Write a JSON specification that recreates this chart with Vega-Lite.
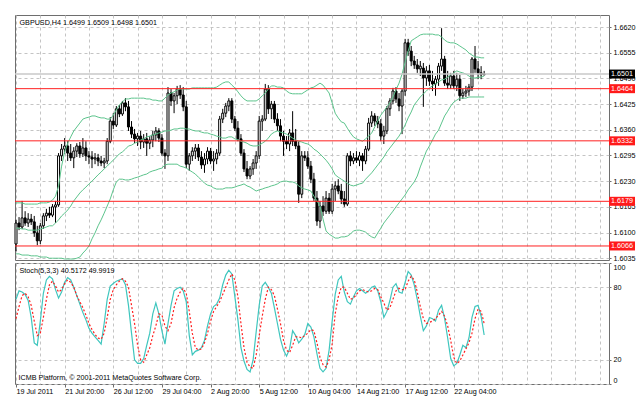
{
"$schema": "https://vega.github.io/schema/vega-lite/v6.json",
"padding": {"left": 13, "top": 14, "right": 2, "bottom": 2},
"background": "white",
"spacing": 3,
"bounds": "flush",
"config": {
  "font": "Liberation Sans",
  "view": {"stroke": "#6e6e6e", "strokeWidth": 1},
  "axis": {"labelFont": "Liberation Sans", "labelFontSize": 7.2, "labelColor": "#000000", "gridColor": "#c4c4c4", "gridDash": [3, 3], "gridWidth": 1, "tickColor": "#6e6e6e", "domain": false, "labelOverlap": false, "labelBound": false, "tickCount": 50, "titleFont": "Liberation Sans", "titleFontSize": 7.2, "titleFontWeight": "normal", "titleColor": "#000000"}
},
"datasets": {
  "levels": [{"p": 1.6464}, {"p": 1.6332}, {"p": 1.6179}, {"p": 1.6066}],
  "bid": [{"p": 1.6501}],
  "bars": [
{"i":0,"o":1.6071,"h":1.6132,"l":1.6053,"c":1.6124,"u":1.6175,"m":1.6111,"b":1.6046,"k":70,"d":54},
{"i":1,"o":1.6124,"h":1.6139,"l":1.6106,"c":1.6114,"u":1.6175,"m":1.6111,"b":1.6046,"k":77,"d":64},
{"i":2,"o":1.6114,"h":1.6180,"l":1.6109,"c":1.6137,"u":1.6175,"m":1.6109,"b":1.6043,"k":76,"d":73},
{"i":3,"o":1.6137,"h":1.6154,"l":1.6117,"c":1.6124,"u":1.6172,"m":1.6109,"b":1.6043,"k":74,"d":75},
{"i":4,"o":1.6124,"h":1.6149,"l":1.6114,"c":1.6134,"u":1.6172,"m":1.6106,"b":1.6043,"k":69,"d":72},
{"i":5,"o":1.6134,"h":1.6147,"l":1.6119,"c":1.6127,"u":1.6172,"m":1.6106,"b":1.6041,"k":55,"d":65},
{"i":6,"o":1.6127,"h":1.6142,"l":1.6089,"c":1.6099,"u":1.6172,"m":1.6106,"b":1.6041,"k":34,"d":52},
{"i":7,"o":1.6099,"h":1.6117,"l":1.6068,"c":1.6079,"u":1.6172,"m":1.6106,"b":1.6041,"k":32,"d":40},
{"i":8,"o":1.6079,"h":1.6124,"l":1.6071,"c":1.6117,"u":1.6175,"m":1.6109,"b":1.6038,"k":52,"d":42},
{"i":9,"o":1.6117,"h":1.6149,"l":1.6109,"c":1.6142,"u":1.6175,"m":1.6111,"b":1.6038,"k":75,"d":55},
{"i":10,"o":1.6142,"h":1.6160,"l":1.6129,"c":1.6149,"u":1.6175,"m":1.6114,"b":1.6038,"k":86,"d":70},
{"i":11,"o":1.6149,"h":1.6165,"l":1.6137,"c":1.6144,"u":1.6177,"m":1.6117,"b":1.6035,"k":89,"d":82},
{"i":12,"o":1.6144,"h":1.6172,"l":1.6139,"c":1.6165,"u":1.6182,"m":1.6117,"b":1.6035,"k":87,"d":85},
{"i":13,"o":1.6165,"h":1.6180,"l":1.6124,"c":1.6170,"u":1.6192,"m":1.6124,"b":1.6035,"k":78,"d":81},
{"i":14,"o":1.6170,"h":1.6301,"l":1.6165,"c":1.6294,"u":1.6218,"m":1.6132,"b":1.6035,"k":71,"d":76},
{"i":15,"o":1.6294,"h":1.6324,"l":1.6281,"c":1.6311,"u":1.6268,"m":1.6142,"b":1.6035,"k":76,"d":78},
{"i":16,"o":1.6311,"h":1.6339,"l":1.6299,"c":1.6319,"u":1.6304,"m":1.6149,"b":1.6033,"k":84,"d":83},
{"i":17,"o":1.6319,"h":1.6331,"l":1.6281,"c":1.6301,"u":1.6326,"m":1.6157,"b":1.6033,"k":88,"d":86},
{"i":18,"o":1.6301,"h":1.6324,"l":1.6281,"c":1.6289,"u":1.6342,"m":1.6167,"b":1.6033,"k":86,"d":84},
{"i":19,"o":1.6289,"h":1.6316,"l":1.6263,"c":1.6306,"u":1.6357,"m":1.6180,"b":1.6033,"k":80,"d":80},
{"i":20,"o":1.6306,"h":1.6326,"l":1.6291,"c":1.6319,"u":1.6367,"m":1.6190,"b":1.6035,"k":73,"d":73},
{"i":21,"o":1.6319,"h":1.6329,"l":1.6289,"c":1.6299,"u":1.6377,"m":1.6200,"b":1.6038,"k":66,"d":68},
{"i":22,"o":1.6299,"h":1.6339,"l":1.6291,"c":1.6314,"u":1.6387,"m":1.6208,"b":1.6048,"k":59,"d":63},
{"i":23,"o":1.6314,"h":1.6331,"l":1.6281,"c":1.6294,"u":1.6390,"m":1.6215,"b":1.6056,"k":53,"d":57},
{"i":24,"o":1.6294,"h":1.6306,"l":1.6273,"c":1.6291,"u":1.6392,"m":1.6223,"b":1.6066,"k":46,"d":50},
{"i":25,"o":1.6291,"h":1.6306,"l":1.6263,"c":1.6286,"u":1.6395,"m":1.6230,"b":1.6084,"k":42,"d":45},
{"i":26,"o":1.6286,"h":1.6301,"l":1.6273,"c":1.6289,"u":1.6395,"m":1.6238,"b":1.6099,"k":39,"d":41},
{"i":27,"o":1.6289,"h":1.6299,"l":1.6268,"c":1.6281,"u":1.6392,"m":1.6246,"b":1.6117,"k":36,"d":38},
{"i":28,"o":1.6281,"h":1.6294,"l":1.6268,"c":1.6276,"u":1.6390,"m":1.6253,"b":1.6132,"k":33,"d":37},
{"i":29,"o":1.6276,"h":1.6289,"l":1.6263,"c":1.6281,"u":1.6390,"m":1.6261,"b":1.6149,"k":50,"d":42},
{"i":30,"o":1.6281,"h":1.6339,"l":1.6273,"c":1.6331,"u":1.6387,"m":1.6268,"b":1.6167,"k":70,"d":55},
{"i":31,"o":1.6331,"h":1.6392,"l":1.6326,"c":1.6382,"u":1.6387,"m":1.6276,"b":1.6185,"k":81,"d":70},
{"i":32,"o":1.6382,"h":1.6402,"l":1.6362,"c":1.6372,"u":1.6397,"m":1.6283,"b":1.6208,"k":83,"d":78},
{"i":33,"o":1.6372,"h":1.6420,"l":1.6367,"c":1.6413,"u":1.6410,"m":1.6291,"b":1.6228,"k":85,"d":82},
{"i":34,"o":1.6413,"h":1.6423,"l":1.6392,"c":1.6400,"u":1.6423,"m":1.6299,"b":1.6235,"k":86,"d":85},
{"i":35,"o":1.6400,"h":1.6433,"l":1.6395,"c":1.6428,"u":1.6430,"m":1.6304,"b":1.6235,"k":87,"d":87},
{"i":36,"o":1.6428,"h":1.6440,"l":1.6407,"c":1.6418,"u":1.6438,"m":1.6311,"b":1.6233,"k":82,"d":85},
{"i":37,"o":1.6418,"h":1.6433,"l":1.6357,"c":1.6367,"u":1.6438,"m":1.6319,"b":1.6233,"k":65,"d":80},
{"i":38,"o":1.6367,"h":1.6382,"l":1.6339,"c":1.6349,"u":1.6440,"m":1.6321,"b":1.6235,"k":42,"d":65},
{"i":39,"o":1.6349,"h":1.6362,"l":1.6326,"c":1.6337,"u":1.6440,"m":1.6326,"b":1.6238,"k":20,"d":50},
{"i":40,"o":1.6337,"h":1.6352,"l":1.6319,"c":1.6344,"u":1.6440,"m":1.6329,"b":1.6240,"k":17,"d":32},
{"i":41,"o":1.6344,"h":1.6357,"l":1.6311,"c":1.6329,"u":1.6440,"m":1.6334,"b":1.6243,"k":17,"d":20},
{"i":42,"o":1.6329,"h":1.6349,"l":1.6314,"c":1.6337,"u":1.6440,"m":1.6337,"b":1.6246,"k":21,"d":18},
{"i":43,"o":1.6337,"h":1.6352,"l":1.6294,"c":1.6326,"u":1.6438,"m":1.6342,"b":1.6248,"k":32,"d":24},
{"i":44,"o":1.6326,"h":1.6344,"l":1.6311,"c":1.6334,"u":1.6438,"m":1.6344,"b":1.6253,"k":42,"d":30},
{"i":45,"o":1.6334,"h":1.6357,"l":1.6316,"c":1.6347,"u":1.6435,"m":1.6347,"b":1.6256,"k":58,"d":40},
{"i":46,"o":1.6347,"h":1.6367,"l":1.6331,"c":1.6357,"u":1.6435,"m":1.6349,"b":1.6258,"k":67,"d":48},
{"i":47,"o":1.6357,"h":1.6364,"l":1.6329,"c":1.6339,"u":1.6433,"m":1.6352,"b":1.6261,"k":58,"d":58},
{"i":48,"o":1.6339,"h":1.6349,"l":1.6294,"c":1.6301,"u":1.6433,"m":1.6354,"b":1.6263,"k":44,"d":57},
{"i":49,"o":1.6301,"h":1.6311,"l":1.6261,"c":1.6294,"u":1.6440,"m":1.6357,"b":1.6271,"k":33,"d":48},
{"i":50,"o":1.6294,"h":1.6468,"l":1.6281,"c":1.6453,"u":1.6448,"m":1.6357,"b":1.6273,"k":50,"d":44},
{"i":51,"o":1.6453,"h":1.6463,"l":1.6420,"c":1.6433,"u":1.6453,"m":1.6359,"b":1.6273,"k":65,"d":50},
{"i":52,"o":1.6433,"h":1.6453,"l":1.6402,"c":1.6446,"u":1.6456,"m":1.6362,"b":1.6273,"k":77,"d":63},
{"i":53,"o":1.6446,"h":1.6471,"l":1.6425,"c":1.6463,"u":1.6461,"m":1.6362,"b":1.6273,"k":79,"d":71},
{"i":54,"o":1.6463,"h":1.6473,"l":1.6438,"c":1.6448,"u":1.6463,"m":1.6364,"b":1.6268,"k":80,"d":76},
{"i":55,"o":1.6448,"h":1.6468,"l":1.6407,"c":1.6418,"u":1.6463,"m":1.6364,"b":1.6266,"k":77,"d":79},
{"i":56,"o":1.6418,"h":1.6433,"l":1.6263,"c":1.6273,"u":1.6463,"m":1.6362,"b":1.6263,"k":68,"d":75},
{"i":57,"o":1.6273,"h":1.6301,"l":1.6256,"c":1.6294,"u":1.6463,"m":1.6362,"b":1.6258,"k":40,"d":60},
{"i":58,"o":1.6294,"h":1.6316,"l":1.6281,"c":1.6306,"u":1.6466,"m":1.6359,"b":1.6253,"k":24,"d":42},
{"i":59,"o":1.6306,"h":1.6324,"l":1.6286,"c":1.6314,"u":1.6466,"m":1.6357,"b":1.6248,"k":27,"d":30},
{"i":60,"o":1.6314,"h":1.6324,"l":1.6281,"c":1.6291,"u":1.6466,"m":1.6357,"b":1.6240,"k":28,"d":28},
{"i":61,"o":1.6291,"h":1.6306,"l":1.6261,"c":1.6271,"u":1.6466,"m":1.6354,"b":1.6233,"k":30,"d":29},
{"i":62,"o":1.6271,"h":1.6301,"l":1.6251,"c":1.6286,"u":1.6466,"m":1.6352,"b":1.6225,"k":36,"d":34},
{"i":63,"o":1.6286,"h":1.6316,"l":1.6273,"c":1.6306,"u":1.6466,"m":1.6352,"b":1.6220,"k":48,"d":42},
{"i":64,"o":1.6306,"h":1.6314,"l":1.6273,"c":1.6281,"u":1.6466,"m":1.6349,"b":1.6218,"k":58,"d":52},
{"i":65,"o":1.6281,"h":1.6306,"l":1.6256,"c":1.6286,"u":1.6466,"m":1.6347,"b":1.6213,"k":64,"d":60},
{"i":66,"o":1.6286,"h":1.6311,"l":1.6273,"c":1.6301,"u":1.6468,"m":1.6344,"b":1.6210,"k":66,"d":64},
{"i":67,"o":1.6301,"h":1.6395,"l":1.6294,"c":1.6387,"u":1.6473,"m":1.6342,"b":1.6210,"k":71,"d":68},
{"i":68,"o":1.6387,"h":1.6413,"l":1.6377,"c":1.6402,"u":1.6478,"m":1.6339,"b":1.6210,"k":82,"d":74},
{"i":69,"o":1.6402,"h":1.6428,"l":1.6392,"c":1.6420,"u":1.6481,"m":1.6339,"b":1.6213,"k":90,"d":80},
{"i":70,"o":1.6420,"h":1.6440,"l":1.6407,"c":1.6433,"u":1.6481,"m":1.6342,"b":1.6213,"k":94,"d":86},
{"i":71,"o":1.6433,"h":1.6440,"l":1.6377,"c":1.6387,"u":1.6473,"m":1.6342,"b":1.6213,"k":91,"d":91},
{"i":72,"o":1.6387,"h":1.6395,"l":1.6357,"c":1.6364,"u":1.6466,"m":1.6337,"b":1.6215,"k":72,"d":86},
{"i":73,"o":1.6364,"h":1.6382,"l":1.6331,"c":1.6337,"u":1.6456,"m":1.6334,"b":1.6218,"k":53,"d":72},
{"i":74,"o":1.6337,"h":1.6349,"l":1.6294,"c":1.6301,"u":1.6446,"m":1.6331,"b":1.6220,"k":30,"d":50},
{"i":75,"o":1.6301,"h":1.6311,"l":1.6253,"c":1.6261,"u":1.6438,"m":1.6329,"b":1.6223,"k":19,"d":30},
{"i":76,"o":1.6261,"h":1.6281,"l":1.6235,"c":1.6243,"u":1.6433,"m":1.6326,"b":1.6218,"k":12,"d":18},
{"i":77,"o":1.6243,"h":1.6268,"l":1.6235,"c":1.6261,"u":1.6433,"m":1.6321,"b":1.6215,"k":10,"d":14},
{"i":78,"o":1.6261,"h":1.6286,"l":1.6246,"c":1.6276,"u":1.6433,"m":1.6319,"b":1.6210,"k":20,"d":13},
{"i":79,"o":1.6276,"h":1.6306,"l":1.6261,"c":1.6294,"u":1.6433,"m":1.6319,"b":1.6205,"k":43,"d":24},
{"i":80,"o":1.6294,"h":1.6395,"l":1.6286,"c":1.6382,"u":1.6438,"m":1.6321,"b":1.6208,"k":65,"d":40},
{"i":81,"o":1.6382,"h":1.6397,"l":1.6357,"c":1.6387,"u":1.6446,"m":1.6326,"b":1.6210,"k":81,"d":56},
{"i":82,"o":1.6387,"h":1.6476,"l":1.6382,"c":1.6463,"u":1.6453,"m":1.6331,"b":1.6213,"k":84,"d":70},
{"i":83,"o":1.6463,"h":1.6473,"l":1.6400,"c":1.6413,"u":1.6463,"m":1.6339,"b":1.6215,"k":80,"d":80},
{"i":84,"o":1.6413,"h":1.6433,"l":1.6387,"c":1.6425,"u":1.6471,"m":1.6349,"b":1.6218,"k":75,"d":78},
{"i":85,"o":1.6425,"h":1.6433,"l":1.6377,"c":1.6387,"u":1.6471,"m":1.6354,"b":1.6220,"k":63,"d":73},
{"i":86,"o":1.6387,"h":1.6402,"l":1.6357,"c":1.6370,"u":1.6468,"m":1.6357,"b":1.6223,"k":50,"d":62},
{"i":87,"o":1.6370,"h":1.6387,"l":1.6331,"c":1.6344,"u":1.6468,"m":1.6354,"b":1.6228,"k":37,"d":50},
{"i":88,"o":1.6344,"h":1.6357,"l":1.6294,"c":1.6331,"u":1.6466,"m":1.6352,"b":1.6230,"k":28,"d":36},
{"i":89,"o":1.6331,"h":1.6344,"l":1.6311,"c":1.6324,"u":1.6458,"m":1.6349,"b":1.6230,"k":23,"d":28},
{"i":90,"o":1.6324,"h":1.6362,"l":1.6306,"c":1.6352,"u":1.6453,"m":1.6344,"b":1.6228,"k":29,"d":26},
{"i":91,"o":1.6352,"h":1.6407,"l":1.6319,"c":1.6331,"u":1.6451,"m":1.6339,"b":1.6228,"k":44,"d":32},
{"i":92,"o":1.6331,"h":1.6362,"l":1.6311,"c":1.6319,"u":1.6451,"m":1.6334,"b":1.6225,"k":40,"d":39},
{"i":93,"o":1.6319,"h":1.6331,"l":1.6175,"c":1.6197,"u":1.6451,"m":1.6331,"b":1.6218,"k":34,"d":39},
{"i":94,"o":1.6197,"h":1.6306,"l":1.6187,"c":1.6294,"u":1.6451,"m":1.6329,"b":1.6213,"k":37,"d":38},
{"i":95,"o":1.6294,"h":1.6306,"l":1.6281,"c":1.6289,"u":1.6456,"m":1.6326,"b":1.6210,"k":41,"d":40},
{"i":96,"o":1.6289,"h":1.6306,"l":1.6261,"c":1.6268,"u":1.6461,"m":1.6324,"b":1.6208,"k":50,"d":42},
{"i":97,"o":1.6268,"h":1.6281,"l":1.6225,"c":1.6235,"u":1.6466,"m":1.6319,"b":1.6205,"k":47,"d":45},
{"i":98,"o":1.6235,"h":1.6251,"l":1.6180,"c":1.6187,"u":1.6468,"m":1.6311,"b":1.6192,"k":39,"d":44},
{"i":99,"o":1.6187,"h":1.6205,"l":1.6117,"c":1.6129,"u":1.6473,"m":1.6306,"b":1.6180,"k":25,"d":34},
{"i":100,"o":1.6129,"h":1.6180,"l":1.6111,"c":1.6167,"u":1.6478,"m":1.6299,"b":1.6167,"k":13,"d":22},
{"i":101,"o":1.6167,"h":1.6192,"l":1.6142,"c":1.6154,"u":1.6473,"m":1.6291,"b":1.6134,"k":10,"d":16},
{"i":102,"o":1.6154,"h":1.6205,"l":1.6147,"c":1.6187,"u":1.6463,"m":1.6283,"b":1.6104,"k":13,"d":14},
{"i":103,"o":1.6187,"h":1.6200,"l":1.6147,"c":1.6154,"u":1.6453,"m":1.6273,"b":1.6096,"k":28,"d":20},
{"i":104,"o":1.6154,"h":1.6223,"l":1.6147,"c":1.6210,"u":1.6428,"m":1.6261,"b":1.6091,"k":52,"d":33},
{"i":105,"o":1.6210,"h":1.6230,"l":1.6180,"c":1.6218,"u":1.6402,"m":1.6246,"b":1.6086,"k":74,"d":58},
{"i":106,"o":1.6218,"h":1.6235,"l":1.6197,"c":1.6205,"u":1.6390,"m":1.6240,"b":1.6086,"k":86,"d":72},
{"i":107,"o":1.6205,"h":1.6223,"l":1.6172,"c":1.6185,"u":1.6380,"m":1.6235,"b":1.6089,"k":89,"d":80},
{"i":108,"o":1.6185,"h":1.6205,"l":1.6165,"c":1.6172,"u":1.6377,"m":1.6230,"b":1.6089,"k":76,"d":80},
{"i":109,"o":1.6172,"h":1.6301,"l":1.6167,"c":1.6294,"u":1.6364,"m":1.6225,"b":1.6091,"k":68,"d":75},
{"i":110,"o":1.6294,"h":1.6306,"l":1.6268,"c":1.6281,"u":1.6352,"m":1.6220,"b":1.6096,"k":66,"d":70},
{"i":111,"o":1.6281,"h":1.6301,"l":1.6273,"c":1.6289,"u":1.6342,"m":1.6218,"b":1.6104,"k":72,"d":71},
{"i":112,"o":1.6289,"h":1.6306,"l":1.6276,"c":1.6283,"u":1.6337,"m":1.6220,"b":1.6106,"k":77,"d":74},
{"i":113,"o":1.6283,"h":1.6304,"l":1.6268,"c":1.6294,"u":1.6334,"m":1.6223,"b":1.6106,"k":79,"d":77},
{"i":114,"o":1.6294,"h":1.6301,"l":1.6256,"c":1.6281,"u":1.6331,"m":1.6225,"b":1.6104,"k":77,"d":78},
{"i":115,"o":1.6281,"h":1.6319,"l":1.6273,"c":1.6311,"u":1.6337,"m":1.6235,"b":1.6101,"k":75,"d":77},
{"i":116,"o":1.6311,"h":1.6390,"l":1.6306,"c":1.6377,"u":1.6344,"m":1.6243,"b":1.6094,"k":77,"d":76},
{"i":117,"o":1.6377,"h":1.6407,"l":1.6367,"c":1.6395,"u":1.6352,"m":1.6251,"b":1.6089,"k":80,"d":77},
{"i":118,"o":1.6395,"h":1.6402,"l":1.6370,"c":1.6382,"u":1.6367,"m":1.6261,"b":1.6086,"k":81,"d":79},
{"i":119,"o":1.6382,"h":1.6395,"l":1.6364,"c":1.6375,"u":1.6382,"m":1.6271,"b":1.6099,"k":77,"d":78},
{"i":120,"o":1.6375,"h":1.6387,"l":1.6331,"c":1.6344,"u":1.6397,"m":1.6281,"b":1.6111,"k":68,"d":72},
{"i":121,"o":1.6344,"h":1.6370,"l":1.6324,"c":1.6357,"u":1.6407,"m":1.6291,"b":1.6124,"k":55,"d":67},
{"i":122,"o":1.6357,"h":1.6420,"l":1.6349,"c":1.6413,"u":1.6418,"m":1.6304,"b":1.6134,"k":60,"d":61},
{"i":123,"o":1.6413,"h":1.6440,"l":1.6395,"c":1.6433,"u":1.6428,"m":1.6314,"b":1.6144,"k":69,"d":63},
{"i":124,"o":1.6433,"h":1.6466,"l":1.6425,"c":1.6458,"u":1.6443,"m":1.6324,"b":1.6154,"k":80,"d":70},
{"i":125,"o":1.6458,"h":1.6468,"l":1.6428,"c":1.6438,"u":1.6461,"m":1.6334,"b":1.6165,"k":83,"d":77},
{"i":126,"o":1.6438,"h":1.6453,"l":1.6407,"c":1.6420,"u":1.6478,"m":1.6344,"b":1.6175,"k":76,"d":79},
{"i":127,"o":1.6420,"h":1.6463,"l":1.6349,"c":1.6458,"u":1.6501,"m":1.6357,"b":1.6185,"k":75,"d":78},
{"i":128,"o":1.6458,"h":1.6590,"l":1.6446,"c":1.6580,"u":1.6531,"m":1.6372,"b":1.6195,"k":84,"d":78},
{"i":129,"o":1.6580,"h":1.6590,"l":1.6547,"c":1.6559,"u":1.6559,"m":1.6390,"b":1.6208,"k":93,"d":85},
{"i":130,"o":1.6559,"h":1.6572,"l":1.6521,"c":1.6534,"u":1.6585,"m":1.6405,"b":1.6218,"k":90,"d":89},
{"i":131,"o":1.6534,"h":1.6547,"l":1.6514,"c":1.6524,"u":1.6590,"m":1.6423,"b":1.6228,"k":82,"d":86},
{"i":132,"o":1.6524,"h":1.6539,"l":1.6504,"c":1.6514,"u":1.6595,"m":1.6433,"b":1.6243,"k":70,"d":76},
{"i":133,"o":1.6514,"h":1.6534,"l":1.6496,"c":1.6521,"u":1.6600,"m":1.6443,"b":1.6266,"k":56,"d":64},
{"i":134,"o":1.6516,"h":1.6529,"l":1.6418,"c":1.6491,"u":1.6602,"m":1.6451,"b":1.6286,"k":44,"d":54},
{"i":135,"o":1.6491,"h":1.6521,"l":1.6471,"c":1.6509,"u":1.6602,"m":1.6458,"b":1.6306,"k":48,"d":50},
{"i":136,"o":1.6509,"h":1.6524,"l":1.6471,"c":1.6483,"u":1.6602,"m":1.6466,"b":1.6319,"k":55,"d":51},
{"i":137,"o":1.6483,"h":1.6509,"l":1.6458,"c":1.6476,"u":1.6602,"m":1.6471,"b":1.6334,"k":54,"d":52},
{"i":138,"o":1.6476,"h":1.6496,"l":1.6446,"c":1.6488,"u":1.6600,"m":1.6476,"b":1.6349,"k":52,"d":54},
{"i":139,"o":1.6488,"h":1.6529,"l":1.6471,"c":1.6521,"u":1.6600,"m":1.6481,"b":1.6359,"k":61,"d":57},
{"i":140,"o":1.6521,"h":1.6617,"l":1.6509,"c":1.6539,"u":1.6595,"m":1.6486,"b":1.6377,"k":65,"d":60},
{"i":141,"o":1.6539,"h":1.6547,"l":1.6471,"c":1.6478,"u":1.6587,"m":1.6488,"b":1.6395,"k":54,"d":56},
{"i":142,"o":1.6478,"h":1.6509,"l":1.6463,"c":1.6473,"u":1.6582,"m":1.6493,"b":1.6407,"k":38,"d":48},
{"i":143,"o":1.6473,"h":1.6504,"l":1.6463,"c":1.6496,"u":1.6580,"m":1.6499,"b":1.6420,"k":21,"d":36},
{"i":144,"o":1.6496,"h":1.6509,"l":1.6463,"c":1.6471,"u":1.6580,"m":1.6504,"b":1.6430,"k":15,"d":22},
{"i":145,"o":1.6471,"h":1.6504,"l":1.6458,"c":1.6488,"u":1.6577,"m":1.6509,"b":1.6435,"k":17,"d":17},
{"i":146,"o":1.6488,"h":1.6499,"l":1.6433,"c":1.6446,"u":1.6572,"m":1.6506,"b":1.6440,"k":24,"d":19},
{"i":147,"o":1.6446,"h":1.6463,"l":1.6438,"c":1.6453,"u":1.6567,"m":1.6504,"b":1.6440,"k":32,"d":24},
{"i":148,"o":1.6453,"h":1.6471,"l":1.6443,"c":1.6458,"u":1.6562,"m":1.6501,"b":1.6440,"k":30,"d":29},
{"i":149,"o":1.6458,"h":1.6476,"l":1.6446,"c":1.6468,"u":1.6554,"m":1.6496,"b":1.6443,"k":38,"d":34},
{"i":150,"o":1.6468,"h":1.6544,"l":1.6458,"c":1.6539,"u":1.6549,"m":1.6491,"b":1.6443,"k":55,"d":42},
{"i":151,"o":1.6539,"h":1.6572,"l":1.6504,"c":1.6514,"u":1.6544,"m":1.6491,"b":1.6443,"k":64,"d":54},
{"i":152,"o":1.6514,"h":1.6534,"l":1.6488,"c":1.6504,"u":1.6544,"m":1.6493,"b":1.6443,"k":65,"d":62},
{"i":153,"o":1.6504,"h":1.6521,"l":1.6488,"c":1.6499,"u":1.6542,"m":1.6493,"b":1.6443,"k":56,"d":60},
{"i":154,"o":1.6499,"h":1.6509,"l":1.6498,"c":1.6501,"u":1.6542,"m":1.6496,"b":1.6443,"k":40.5172,"d":49.9919}
  ]
},
"vconcat": [
  {
    "width": 594,
    "height": 245,
    "layer": [
      {
        "data": {"name": "bars"},
        "mark": {"type": "rule", "color": "#000000", "strokeWidth": 1},
        "encoding": {
          "x": {"field": "i", "type": "quantitative", "scale": {"domain": [-0.33, 195.07], "nice": false, "zero": false, "padding": 0},
                "axis": {"values": [0,8,16,24,32,40,48,56,64,72,80,88,96,104,112,120,128,136,144,152,160,168,176,184,192], "tickCount": 50, "grid": true, "labels": false, "ticks": false, "domain": false,
                         "title": "GBPUSD,H4  1.6499 1.6509 1.6498 1.6501", "titleX": 4, "titleY": -236, "titleAnchor": "start", "titleAlign": "left", "titleBaseline": "alphabetic"}},
          "y": {"field": "l", "type": "quantitative", "scale": {"domain": [1.60305, 1.66504], "nice": false, "zero": false},
                "axis": {"orient": "right", "values": [1.6035,1.61,1.6165,1.623,1.6295,1.636,1.6425,1.649,1.6555,1.662], "tickCount": 50, "format": ".4f", "grid": true, "tickSize": 2, "labelPadding": 2, "domain": false, "title": null, "labelOverlap": false, "labelBound": false}},
          "y2": {"field": "h"}
        }
      },
      {
        "data": {"name": "bars"},
        "mark": {"type": "bar", "width": 2, "stroke": "#000000", "strokeWidth": 1},
        "encoding": {
          "x": {"field": "i", "type": "quantitative", "scale": {"domain": [-0.33, 195.07], "nice": false, "zero": false, "padding": 0}},
          "y": {"field": "o", "type": "quantitative", "scale": {"domain": [1.60305, 1.66504], "nice": false, "zero": false}},
          "y2": {"field": "c"},
          "fill": {"condition": {"test": "datum.c >= datum.o", "value": "#ffffff"}, "value": "#000000"}
        }
      },
      {
        "data": {"name": "bars"},
        "mark": {"type": "line", "color": "#5cc48c", "strokeWidth": 1},
        "encoding": {
          "x": {"field": "i", "type": "quantitative", "scale": {"domain": [-0.33, 195.07], "nice": false, "zero": false, "padding": 0}},
          "y": {"field": "u", "type": "quantitative", "scale": {"domain": [1.60305, 1.66504], "nice": false, "zero": false}}
        }
      },
      {
        "data": {"name": "bars"},
        "mark": {"type": "line", "color": "#5cc48c", "strokeWidth": 1},
        "encoding": {
          "x": {"field": "i", "type": "quantitative", "scale": {"domain": [-0.33, 195.07], "nice": false, "zero": false, "padding": 0}},
          "y": {"field": "m", "type": "quantitative", "scale": {"domain": [1.60305, 1.66504], "nice": false, "zero": false}}
        }
      },
      {
        "data": {"name": "bars"},
        "mark": {"type": "line", "color": "#5cc48c", "strokeWidth": 1},
        "encoding": {
          "x": {"field": "i", "type": "quantitative", "scale": {"domain": [-0.33, 195.07], "nice": false, "zero": false, "padding": 0}},
          "y": {"field": "b", "type": "quantitative", "scale": {"domain": [1.60305, 1.66504], "nice": false, "zero": false}}
        }
      },
      {
        "data": {"name": "bid"},
        "mark": {"type": "rule", "color": "#c8c8c8", "strokeWidth": 1.5},
        "encoding": {"y": {"field": "p", "type": "quantitative", "scale": {"domain": [1.60305, 1.66504], "nice": false, "zero": false}}}
      },
      {
        "data": {"name": "levels"},
        "mark": {"type": "rule", "color": "#ff2020", "strokeWidth": 1},
        "encoding": {"y": {"field": "p", "type": "quantitative", "scale": {"domain": [1.60305, 1.66504], "nice": false, "zero": false}}}
      },
      {
        "data": {"name": "levels"},
        "mark": {"type": "rule", "color": "#ff1a1a", "strokeWidth": 9, "x": {"expr": "width"}, "x2": {"expr": "width + 26"}},
        "encoding": {"y": {"field": "p", "type": "quantitative", "scale": {"domain": [1.60305, 1.66504], "nice": false, "zero": false}}}
      },
      {
        "data": {"name": "bid"},
        "mark": {"type": "rule", "color": "#000000", "strokeWidth": 9, "x": {"expr": "width"}, "x2": {"expr": "width + 26"}},
        "encoding": {"y": {"field": "p", "type": "quantitative", "scale": {"domain": [1.60305, 1.66504], "nice": false, "zero": false}}}
      },
      {
        "data": {"name": "levels"},
        "mark": {"type": "text", "color": "#ffffff", "align": "left", "baseline": "middle", "x": {"expr": "width + 2"}, "fontSize": 7.2, "font": "Liberation Sans"},
        "encoding": {
          "y": {"field": "p", "type": "quantitative", "scale": {"domain": [1.60305, 1.66504], "nice": false, "zero": false}},
          "text": {"field": "p", "type": "quantitative", "format": ".4f"}
        }
      },
      {
        "data": {"name": "bid"},
        "mark": {"type": "text", "color": "#ffffff", "align": "left", "baseline": "middle", "x": {"expr": "width + 2"}, "fontSize": 7.2, "font": "Liberation Sans"},
        "encoding": {
          "y": {"field": "p", "type": "quantitative", "scale": {"domain": [1.60305, 1.66504], "nice": false, "zero": false}},
          "text": {"field": "p", "type": "quantitative", "format": ".4f"}
        }
      },
      {
        "mark": {"type": "rule", "color": "#8c8c8c", "strokeWidth": 3, "y": {"expr": "height + 1.5"}, "x": 0, "x2": {"expr": "width + 1"}},
        "encoding": {}
      }
    ]
  },
  {
    "width": 594,
    "height": 121,
    "data": {"name": "bars"},
    "layer": [
      {
        "mark": {"type": "line", "color": "#3ec6be", "strokeWidth": 1.2},
        "encoding": {
          "x": {"field": "i", "type": "quantitative", "scale": {"domain": [-0.33, 195.07], "nice": false, "zero": false, "padding": 0},
                "axis": {"values": [0,8,16,24,32,40,48,56,64,72,80,88,96,104,112,120,128,136,144,152,160,168,176,184,192], "tickCount": 50, "grid": true, "domain": false,
                         "labelExpr": "datum.value % 16 === 0 && datum.value <= 144 ? ['19 Jul 2011','21 Jul 20:00','26 Jul 12:00','29 Jul 04:00','2 Aug 20:00','5 Aug 12:00','10 Aug 04:00','14 Aug 21:00','17 Aug 12:00','22 Aug 04:00'][datum.value / 16] : ''",
                         "tickSize": 3, "tickOpacity": {"condition": {"test": "datum.value % 16 === 0 && datum.value <= 144", "value": 1}, "value": 0},
                         "labelPadding": 0, "labelAlign": "left", "labelBaseline": "top", "labelOverlap": false, "labelBound": false, "labelFlush": false, "labelDx": -1,
                         "title": "ICMB Platform, © 2001-2011 MetaQuotes Software Corp.", "titleX": 3, "titleY": -5, "titleAnchor": "start", "titleAlign": "left", "titleBaseline": "alphabetic"}},
          "y": {"field": "k", "type": "quantitative", "scale": {"domain": [0, 100], "nice": false, "zero": false},
                "axis": {"orient": "right", "values": [0, 20, 80, 100], "tickCount": 50, "format": "d", "grid": true, "labelFlush": true, "labelOverlap": false, "tickSize": 2, "labelPadding": 2, "domain": false,
                         "title": "Stoch(5,3,3) 40.5172 49.9919", "titleAngle": 0, "titleX": -590, "titleY": 9.5, "titleAnchor": "start", "titleAlign": "left", "titleBaseline": "alphabetic"}}
        }
      },
      {
        "mark": {"type": "line", "color": "#ff2020", "strokeWidth": 1.2, "strokeDash": [2, 2]},
        "encoding": {
          "x": {"field": "i", "type": "quantitative", "scale": {"domain": [-0.33, 195.07], "nice": false, "zero": false, "padding": 0}},
          "y": {"field": "d", "type": "quantitative", "scale": {"domain": [0, 100], "nice": false, "zero": false}}
        }
      }
    ]
  }
]
}
